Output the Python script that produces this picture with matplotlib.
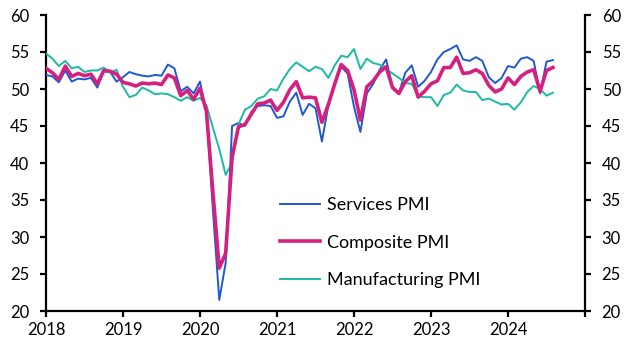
import numpy as np
import matplotlib.pyplot as plt

# monthly, Jan 2018 - Aug 2024
services = [
    51.9, 51.7, 50.9, 52.5, 51.0, 51.4, 51.3, 51.5, 50.2, 52.4, 52.3, 51.0,
    51.6, 52.3, 52.0, 51.8, 51.7, 51.9, 51.8, 53.3, 52.8, 49.7, 50.3, 49.4,
    51.0, 46.8, 33.8, 21.5, 26.5, 45.0, 45.4, 45.0, 46.9, 47.7, 47.8, 47.7,
    46.1, 46.3, 48.3, 49.5, 46.5, 48.0, 47.4, 42.9, 47.8, 50.7, 53.0, 52.1,
    47.6, 44.2, 49.4, 50.7, 52.6, 54.0, 50.3, 49.5, 52.2, 53.2, 50.3, 51.1,
    52.3, 54.0, 55.0, 55.4, 55.9, 54.0, 53.8, 54.3, 53.8, 51.6, 50.8, 51.5,
    53.1, 52.9, 54.1, 54.3, 53.8, 49.4, 53.7, 53.9,
]
composite = [
    52.8, 52.2, 51.3, 53.1, 51.7, 52.1, 51.8, 52.0, 50.7, 52.5, 52.4, 52.0,
    50.9, 50.7, 50.4, 50.8, 50.7, 50.8, 50.6, 51.9, 51.5, 49.1, 49.8, 48.6,
    50.1, 47.0, 36.2, 25.8, 27.8, 40.8, 44.9, 45.2, 46.6, 48.0, 48.1, 48.5,
    47.1, 48.2, 49.9, 51.0, 48.8, 48.9, 48.8, 45.5, 47.9, 50.7, 53.3, 52.5,
    49.9, 45.8, 50.3, 51.1, 52.3, 53.0, 50.2, 49.4, 51.0, 51.8, 48.9, 49.7,
    50.7, 51.1, 52.9, 52.9, 54.3, 52.1, 52.2, 52.6, 52.1, 50.5, 49.6, 50.0,
    51.5, 50.6, 51.7, 52.3, 52.6, 49.7, 52.5, 52.9,
]
manufacturing = [
    54.8, 54.1, 53.1, 53.8, 52.8, 53.0, 52.3, 52.5, 52.5, 52.9, 52.2, 52.6,
    50.3, 48.9, 49.2, 50.2, 49.8, 49.3, 49.4, 49.3, 48.9, 48.4, 48.9, 48.4,
    48.8, 47.8, 44.8, 41.9, 38.4, 40.1, 45.2, 47.2, 47.7, 48.7, 49.0, 50.0,
    49.8, 51.4, 52.7, 53.6, 53.0, 52.4, 53.0, 52.7, 51.5, 53.2, 54.5, 54.3,
    55.4, 52.7, 54.1, 53.5, 53.3, 52.7, 52.1, 51.5, 50.8, 50.7, 49.0, 48.9,
    48.9, 47.7, 49.2, 49.5, 50.6, 49.8, 49.6, 49.6, 48.5, 48.7, 48.3, 47.9,
    48.0, 47.2, 48.2, 49.6, 50.4, 50.0, 49.1, 49.5,
]
years = list(range(2018, 2025))

x = 2018 + np.arange(len(services)) / 12

plt.rcParams['font.family'] = ['Lato', 'DejaVu Sans']

fig = plt.figure(figsize=(6.28, 3.53), dpi=100)
ax = fig.add_axes([46 / 628, 1 - 311 / 353, 539 / 628, 296 / 353])

ax.plot(x, services, color='#2058d2', lw=1.4, label='Services PMI', zorder=3)
ax.plot(x, manufacturing, color='#1bbba3', lw=1.4, label='Manufacturing PMI', zorder=3)
ax.plot(x, composite, color='#d6207f', lw=2.6, label='Composite PMI', zorder=4)

ax.set_xlim(2018, 2025)
ax.set_ylim(20, 60)
ax.set_xticks(range(2018, 2026))
ax.set_xticklabels([str(y) for y in years] + [''])
ax.set_yticks(range(20, 61, 5))

for s in ['left', 'right', 'bottom']:
    ax.spines[s].set_linewidth(1.6)
ax.spines['top'].set_visible(False)
ax.tick_params(axis='both', direction='out', length=4, width=1.6, labelsize=12)
ax.tick_params(axis='y', right=True, labelright=True, pad=8)
ax.tick_params(axis='x', pad=4)

h, l = ax.get_legend_handles_labels()
order = [0, 2, 1]
ax.legend([h[i] for i in order], [l[i] for i in order], frameon=False,
          loc='upper left', bbox_to_anchor=(0.404, 0.44), fontsize=13,
          handlelength=2.2, handletextpad=0.4, labelspacing=1.2)

fig.savefig('out.png', dpi=100)
